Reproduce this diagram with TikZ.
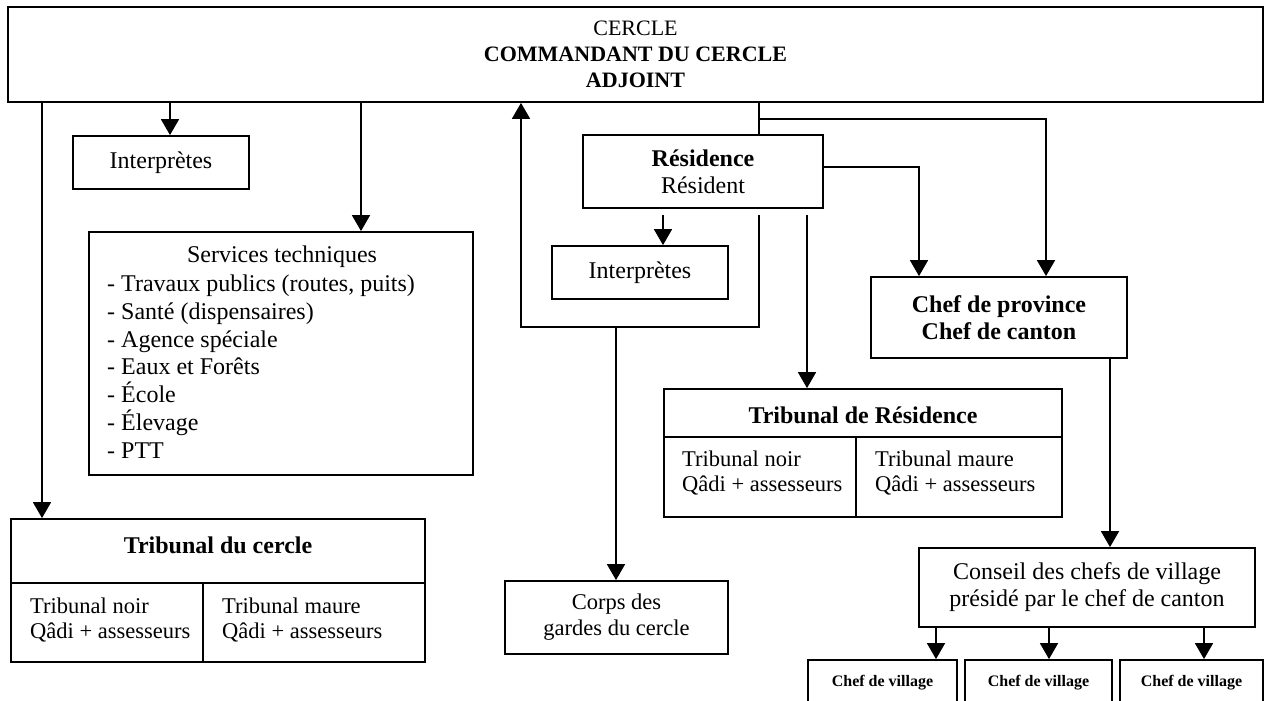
\documentclass[tikz,border=0pt]{standalone}
\usepackage{fontspec}
\setmainfont{Liberation Serif}
\usetikzlibrary{arrows.meta,calc}
\begin{document}
\begin{tikzpicture}[x=1pt,y=-1pt,
  box/.style={draw, line width=1.8pt, rectangle, inner sep=0pt, align=center, font=\fontsize{24}{27}\selectfont},
  cell/.style={inner sep=0pt, align=left, anchor=west, font=\fontsize{22.5}{25}\selectfont},
  ttl/.style={inner sep=0pt, align=center, font=\fontsize{24}{27}\selectfont\bfseries},
  vbox/.style={box, font=\fontsize{16}{18}\selectfont\bfseries},
  ln/.style={line width=1.8pt},
  arr/.style={line width=1.7pt, -{Triangle[length=16pt,width=18pt]}},
]
\useasboundingbox (0,0) rectangle (1269,701);
\fill[white] (0,0) rectangle (1269,701);

% x positions of connectors
\coordinate (xa) at (42,0);
\coordinate (xb) at (170,0);
\coordinate (xc) at (361,0);
\coordinate (xd) at (521,0);
\coordinate (xe) at (759,0);
\coordinate (xf) at (807,0);
\coordinate (xg) at (663,0);
\coordinate (xh) at (616,0);
\coordinate (xi) at (919,0);
\coordinate (xj) at (1046,0);
\coordinate (xk) at (1110,0);
\coordinate (xv1) at (936,0);
\coordinate (xv2) at (1049,0);
\coordinate (xv3) at (1204,0);
\coordinate (yres) at (0,215);
\coordinate (yloop) at (0,327);
\coordinate (yh) at (0,119);
\coordinate (yre) at (0,167);

% nodes
\node[box, minimum width=1255pt, minimum height=95pt, font=\fontsize{22}{26}\selectfont] (top) at (635.5,54.5)
  {CERCLE\\\textbf{COMMANDANT DU CERCLE}\\\textbf{ADJOINT}};
\node[box, minimum width=176pt, minimum height=53pt] (interpA) at (161,162.5) {Interprètes};
\node[box, minimum width=384pt, minimum height=243pt] (svc) at (281,353.5) {};
\node[inner sep=0pt, font=\fontsize{24}{27}\selectfont] (svcT) at (282,257) {Services techniques};
\node[inner sep=0pt, align=left, anchor=west, font=\fontsize{24}{27.8}\selectfont] (svcL) at (107,366.5)
  {- Travaux publics (routes, puits)\\- Santé (dispensaires)\\- Agence spéciale\\- Eaux et Forêts\\- École\\- Élevage\\- PTT};

\node[box, minimum width=414pt, minimum height=143pt] (tribC) at (218,590.5) {};
\draw[ln] (tribC.west |- 0,583) -- (tribC.east |- 0,583);
\draw[ln] (203,583) -- (tribC.south -| 203,0);
\node[ttl] (tribCT) at (218,545) {Tribunal du cercle};
\node[cell] (tribCL) at (30,620) {Tribunal noir\\Qâdi + assesseurs};
\node[cell] (tribCR) at (222,620) {Tribunal maure\\Qâdi + assesseurs};

\node[box, minimum width=240pt, minimum height=73pt] (res) at (703,171.5) {\textbf{Résidence}\\Résident};
\node[box, minimum width=176pt, minimum height=53pt] (interpB) at (640,272.5) {Interprètes};
\node[box, minimum width=223pt, minimum height=73pt, font=\fontsize{22.5}{26}\selectfont] (corps) at (616.5,617.5) {Corps des\\gardes du cercle};

\node[box, minimum width=398pt, minimum height=128pt] (tribR) at (863,453) {};
\draw[ln] (tribR.west |- 0,437) -- (tribR.east |- 0,437);
\draw[ln] (856,437) -- (tribR.south -| 856,0);
\node[ttl] (tribRT) at (863,415) {Tribunal de Résidence};
\node[cell] (tribRL) at (682,473) {Tribunal noir\\Qâdi + assesseurs};
\node[cell] (tribRR) at (875,473) {Tribunal maure\\Qâdi + assesseurs};

\node[box, minimum width=256pt, minimum height=81pt, font=\fontsize{24}{27}\selectfont\bfseries] (chef) at (999,317.5) {Chef de province\\Chef de canton};
\node[box, minimum width=336pt, minimum height=79pt] (conseil) at (1087,587.5) {Conseil des chefs de village\\présidé par le chef de canton};

\node[vbox, minimum width=149pt, minimum height=45pt] (v1) at (882.5,682.5) {Chef de village};
\node[vbox, minimum width=147pt, minimum height=45pt] (v2) at (1038.5,682.5) {Chef de village};
\node[vbox, minimum width=143pt, minimum height=45pt] (v3) at (1191.5,682.5) {Chef de village};

% connectors
\draw[arr] (top.south -| xa) -- (xa |- tribC.north);
\draw[arr] (top.south -| xb) -- (xb |- interpA.north);
\draw[arr] (top.south -| xc) -- (xc |- svc.north);
\draw[ln] (top.south -| xe) -- (xe |- res.north);
\draw[arr] (xe |- yh) -- (xj |- yh) -- (xj |- chef.north);
\draw[arr] (res.east |- yre) -- (xi |- yre) -- (xi |- chef.north);
\draw[arr] (xg |- yres) -- (xg |- interpB.north);
\draw[arr] (xe |- yres) -- (xe |- yloop) -- (xd |- yloop) -- (xd |- top.south);
\draw[arr] (xh |- yloop) -- (xh |- corps.north);
\draw[arr] (xf |- yres) -- (xf |- tribR.north);
\draw[arr] (xk |- chef.south) -- (xk |- conseil.north);
\draw[arr] (xv1 |- conseil.south) -- (xv1 |- v1.north);
\draw[arr] (xv2 |- conseil.south) -- (xv2 |- v2.north);
\draw[arr] (xv3 |- conseil.south) -- (xv3 |- v3.north);
\end{tikzpicture}
\end{document}
